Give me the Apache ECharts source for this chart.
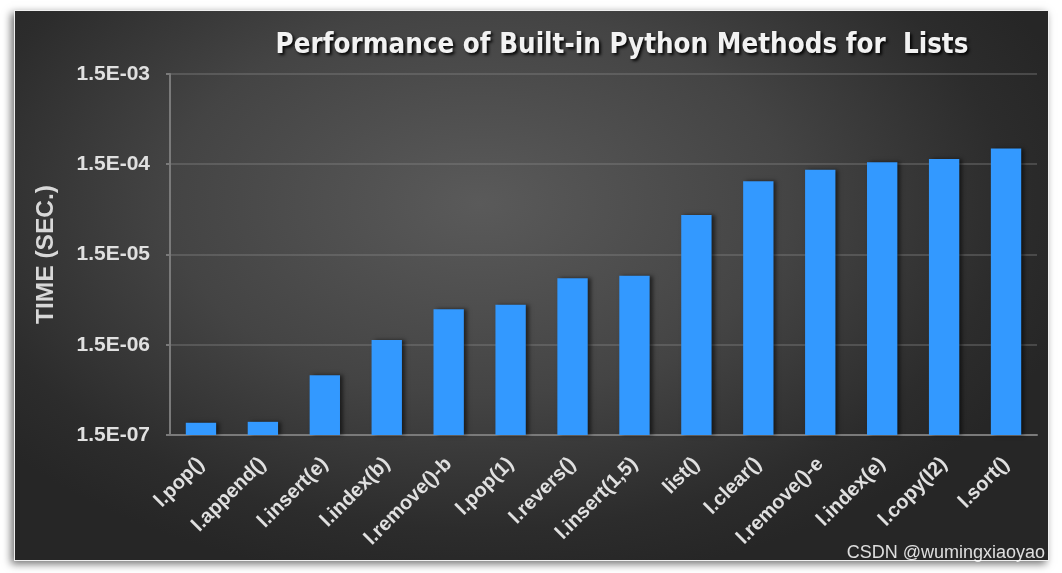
<!DOCTYPE html>
<html>
<head>
<meta charset="utf-8">
<script src="https://cdn.jsdelivr.net/npm/echarts@6/dist/echarts.min.js"></script>
<style>
html,body{margin:0;padding:0;background:#fff;width:1062px;height:573px;overflow:hidden;}
#frame{position:absolute;left:14px;top:10px;width:1033px;height:549px;border:1px solid #f0f0f0;
background:radial-gradient(ellipse 60% 70% at 45% 35%, #5a5a5a 0%, #444 50%, #2c2c2c 85%, #262626 100%);
box-shadow:-3px 3px 8px rgba(0,0,0,0.55);}
#chart{position:absolute;left:0;top:0;width:1062px;height:573px;}
</style>
</head>
<body>
<div id="frame"></div>
<div id="chart"></div>
<script>
const categories = ['l.pop()', 'l.append()', 'l.insert(e)', 'l.index(b)', 'l.remove()-b', 'l.pop(1)', 'l.revers()', 'l.insert(1,5)', 'list()', 'l.clear()', 'l.remove()-e', 'l.index(e)', 'l.copy(l2)', 'l.sort()'];
const times = [2.05e-7, 2.10e-7, 6.9e-7, 1.69e-6, 3.7e-6, 4.15e-6, 8.2e-6, 8.7e-6, 4.1e-5, 9.7e-5, 1.30e-4, 1.58e-4, 1.71e-4, 2.24e-4];
const tickValues = [1.5e-7, 1.5e-6, 1.5e-5, 1.5e-4, 1.5e-3];
const tickLabels = ['1.5E-07', '1.5E-06', '1.5E-05', '1.5E-04', '1.5E-03'];
const axisBase = tickValues[0];

function labelFor(v) {
  let best = 0, bd = Infinity;
  tickValues.forEach((t, i) => {
    const d = Math.abs(Math.log10(v) - Math.log10(t));
    if (d < bd) { bd = d; best = i; }
  });
  return tickLabels[best];
}

const chart = echarts.init(document.getElementById('chart'), null, {renderer: 'canvas'});
chart.setOption({
  backgroundColor: 'transparent',
  animation: false,
  title: {
    text: 'Performance of Built-in Python Methods for  Lists',
    left: 617, textAlign: 'center', top: 27,
    textStyle: {
      fontFamily: 'DejaVu Sans Condensed', fontWeight: 'bold', fontSize: 27.5, color: '#f2f2f2',
      textShadowColor: 'rgba(0,0,0,0.9)', textShadowBlur: 3, textShadowOffsetX: 2, textShadowOffsetY: 2
    }
  },
  grid: {left: 170, right: 25, top: 74, bottom: 138},
  xAxis: {
    type: 'category',
    data: categories,
    axisLine: {lineStyle: {color: '#7a7a7a', width: 2}},
    axisTick: {show: false},
    axisLabel: {
      rotate: 45, interval: 0, margin: 26,
      color: '#e0e0e0', fontFamily: 'Liberation Sans', fontWeight: 'bold', fontSize: 20
    }
  },
  yAxis: {
    type: 'log',
    logBase: 10,
    min: 1.5e-7,
    max: 1.5e-3,
    name: 'TIME (SEC.)',
    nameLocation: 'middle',
    nameRotate: 90,
    nameGap: 111,
    nameTextStyle: {color: '#d8d8d8', fontFamily: 'Liberation Sans', fontWeight: 'bold', fontSize: 24.5},
    axisLine: {show: true, lineStyle: {color: '#7a7a7a', width: 2}},
    axisTick: {show: true, length: 4, inside: false, customValues: tickValues, lineStyle: {color: '#7a7a7a', width: 2}},
    axisLabel: {
      customValues: tickValues,
      formatter: v => labelFor(v),
      margin: 20,
      color: '#e0e0e0', fontFamily: 'Liberation Sans', fontWeight: 'bold', fontSize: 21
    },
    splitLine: {show: true, lineStyle: {color: 'rgba(140,140,140,0.45)', width: 1.5}}
  },
  series: [{
    type: 'bar',
    stack: 't',
    data: times.map(() => axisBase),
    barWidth: '49%',
    itemStyle: {color: 'rgba(0,0,0,0)'},
    silent: true
  }, {
    type: 'bar',
    stack: 't',
    data: times.map(v => v - axisBase),
    barWidth: '49%',
    itemStyle: {
      color: '#3399ff',
      shadowColor: 'rgba(0,0,0,0.55)', shadowBlur: 4, shadowOffsetX: 3, shadowOffsetY: 0
    }
  }],
  graphic: [{
    type: 'text', right: 17, bottom: 11,
    style: {text: 'CSDN @wumingxiaoyao', fill: 'rgba(255,255,255,0.85)', font: '18px "Liberation Sans"'}
  }]
});
</script>
</body>
</html>
